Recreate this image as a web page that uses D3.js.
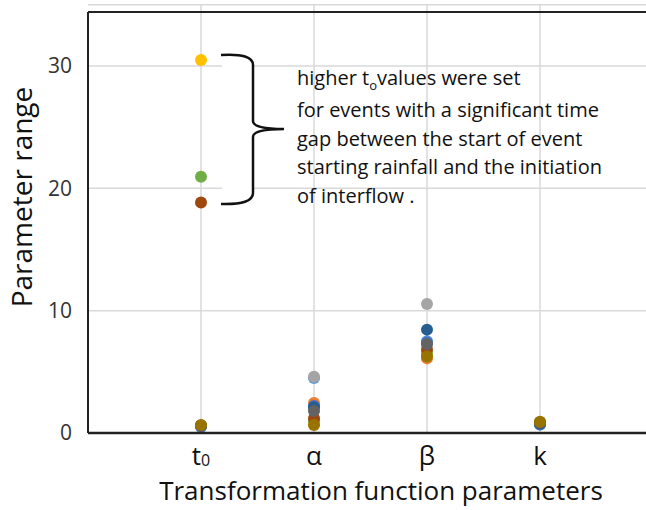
<!DOCTYPE html>
<html>
<head>
<meta charset="utf-8">
<script src="https://cdn.jsdelivr.net/npm/d3@7"></script>
<style>
  body { margin: 0; background: #fff; }
  svg { display: block; }
</style>
</head>
<body>
<svg id="chart" width="646" height="510"></svg>
<script>
// categories on the x axis (positions 1..4)
var categories = ["t", "α", "β", "k"];
var yTicks = [0, 10, 20, 30];

// one array per event series: values for t0, alpha, beta, k
var series1 = [0.50, 4.50, 7.50, 0.70];
var series2 = [0.60, 2.45, 6.10, 0.80];
var series3 = [0.60, 4.60, 10.55, 0.80];
var series4 = [30.50, 0.70, 6.30, 0.80];
var series5 = [0.60, 2.20, 7.40, 0.70];
var series6 = [20.95, 1.00, 6.50, 0.80];
var series7 = [0.60, 2.10, 8.45, 0.75];
var series8 = [18.85, 1.20, 6.80, 0.85];
var series9 = [0.60, 1.80, 7.25, 0.85];
var series10 = [0.65, 0.65, 6.25, 0.92];

var seriesColors = ["#5B9BD5", "#ED7D31", "#A5A5A5", "#FFC000", "#4472C4",
                    "#70AD47", "#255E91", "#9E480E", "#636363", "#997300"];

var noteLines = [
    "for events with a significant time",
    "gap between the start of  event",
    "starting rainfall and the initiation",
    "of interflow ."
];

var allSeries = [series1, series2, series3, series4, series5,
                 series6, series7, series8, series9, series10];

var svg = d3.select("#chart");

var left = 88, bottom = 433, plotTop = 12;

var x = d3.scaleLinear().domain([0, 5]).range([left, 653]);
var y = d3.scaleLinear().domain([0, 30]).range([bottom, 66]);

// horizontal gridlines (including the one just above the frame)
svg.append("g")
    .selectAll("line")
    .data([10, 20, 30, 35])
    .enter()
    .append("line")
    .attr("x1", left)
    .attr("x2", 646)
    .attr("y1", function(d) { return y(d); })
    .attr("y2", function(d) { return y(d); })
    .attr("stroke", "#d9d9d9")
    .attr("stroke-width", 1.5);

// vertical gridlines at each category
svg.append("g")
    .selectAll("line")
    .data(categories)
    .enter()
    .append("line")
    .attr("x1", function(d, i) { return x(i + 1); })
    .attr("x2", function(d, i) { return x(i + 1); })
    .attr("y1", y(35))
    .attr("y2", bottom)
    .attr("stroke", "#d9d9d9")
    .attr("stroke-width", 1.5);

// points
var points = [];
for (var s in allSeries) {
    for (var c in allSeries[s]) {
        points.push({ s: +s, c: +c, v: allSeries[s][c] });
    }
}
svg.append("g")
    .selectAll("circle")
    .data(points)
    .enter()
    .append("circle")
    .attr("cx", function(d) { return x(d.c + 1); })
    .attr("cy", function(d) { return y(d.v); })
    .attr("r", 6)
    .attr("fill", function(d) { return seriesColors[d.s]; });

// frame: left, top and bottom axis lines
svg.append("line")
    .attr("x1", left).attr("x2", left)
    .attr("y1", plotTop).attr("y2", bottom)
    .attr("stroke", "#222").attr("stroke-width", 2);
svg.append("line")
    .attr("x1", left).attr("x2", 646)
    .attr("y1", plotTop).attr("y2", plotTop)
    .attr("stroke", "#222").attr("stroke-width", 2);
svg.append("line")
    .attr("x1", left).attr("x2", 646)
    .attr("y1", bottom).attr("y2", bottom)
    .attr("stroke", "#222").attr("stroke-width", 2.5);

// y tick labels
svg.append("g")
    .selectAll("text")
    .data(yTicks)
    .enter()
    .append("text")
    .attr("x", 72)
    .attr("y", function(d) { return y(d); })
    .attr("dy", "0.35em")
    .attr("text-anchor", "end")
    .attr("font-family", "Open Sans")
    .attr("font-size", 21)
    .attr("fill", "#333")
    .text(function(d) { return d; });

// x tick labels
var xLabels = svg.append("g")
    .selectAll("text")
    .data(categories)
    .enter()
    .append("text")
    .attr("x", function(d, i) { return x(i + 1); })
    .attr("y", 465)
    .attr("text-anchor", "middle")
    .attr("font-family", "Open Sans")
    .attr("font-size", 26)
    .attr("fill", "#111");
xLabels.append("tspan").text(function(d) { return d; });
xLabels.filter(function(d, i) { return i === 0; })
    .append("tspan")
    .attr("font-size", 16)
    .attr("dy", 1)
    .text("0");

// axis titles
svg.append("text")
    .attr("transform", "translate(32,197) rotate(-90)")
    .attr("text-anchor", "middle")
    .attr("font-family", "Open Sans")
    .attr("font-size", 28)
    .attr("fill", "#111")
    .text("Parameter range");

svg.append("text")
    .attr("x", 381)
    .attr("y", 500)
    .attr("text-anchor", "middle")
    .attr("font-family", "Open Sans")
    .attr("font-size", 26)
    .attr("fill", "#111")
    .text("Transformation function parameters");

// brace next to the high t0 values
svg.append("rect")
    .attr("x", 222).attr("y", 50)
    .attr("width", 30).attr("height", 160)
    .attr("fill", "#fff");
svg.append("path")
    .attr("d", "M221,55 Q253,53 253,65 L253,121 Q253,129 284,129 " +
               "M284,129 Q253,129 253,137 L253,193 Q253,205 221,204")
    .attr("fill", "none")
    .attr("stroke", "#111")
    .attr("stroke-width", 2.5);

// annotation text
var note = svg.append("g")
    .attr("font-family", "Open Sans")
    .attr("font-size", 20)
    .attr("fill", "#111");
var first = note.append("text").attr("x", 297).attr("y", 85);
first.append("tspan").text("higher t");
first.append("tspan").attr("font-size", 13).attr("dy", 5).text("o");
first.append("tspan").attr("dy", -5).text("values were set");
note.selectAll("text.line")
    .data(noteLines)
    .enter()
    .append("text")
    .attr("class", "line")
    .attr("x", 297)
    .attr("y", function(d, i) { return 117 + i * 28.5; })
    .text(function(d) { return d; });
</script>
</body>
</html>
